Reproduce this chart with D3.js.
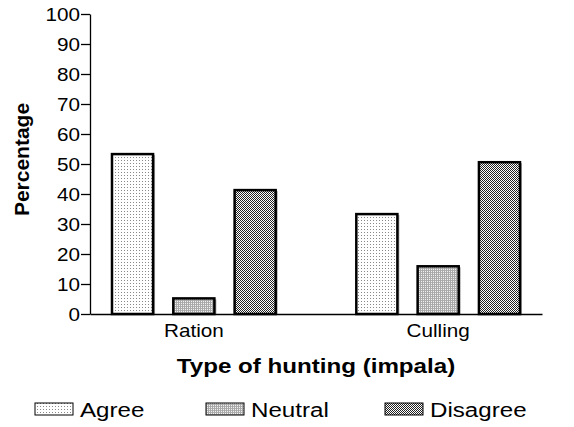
<!DOCTYPE html>
<html>
<head>
<meta charset="utf-8">
<script src="https://cdn.jsdelivr.net/npm/d3@7"></script>
<style>
    body { margin: 0; background: #fff; }
    svg { font-family: Arial, "Liberation Sans", sans-serif; }
</style>
</head>
<body>
<svg id="chart" width="574" height="427"></svg>
<script>
// chart values
let categories = ['Ration', 'Culling'];
let seriesNames = ['Agree', 'Neutral', 'Disagree'];
let agree = [53.3, 33.3];
let neutral = [5.2, 15.9];
let disagree = [41.3, 50.6];
let yTicks = [0, 10, 20, 30, 40, 50, 60, 70, 80, 90, 100];

let svg = d3.select('svg#chart'),
    margin = {top: 14, right: 32, bottom: 113, left: 90},
    width = +svg.attr('width'),
    height = +svg.attr('height');

// text in the original looks a bit wide, so stretch it horizontally
let sx = 1.15;
function stretchText(sel, x, y) {
    sel.attr('x', 0).attr('y', 0)
        .attr('transform', 'translate(' + x + ',' + y + ') scale(' + sx + ',1)');
}

// fill patterns, one per series
let defs = svg.append('defs');

let p1 = defs.append('pattern').attr('id', 'pAgree')
    .attr('patternUnits', 'userSpaceOnUse').attr('width', 3).attr('height', 3);
p1.append('rect').attr('width', 3).attr('height', 3).attr('fill', '#fff');
p1.append('rect').attr('x', 1).attr('y', 1).attr('width', 1).attr('height', 1).attr('fill', '#888');

let p2 = defs.append('pattern').attr('id', 'pNeutral')
    .attr('patternUnits', 'userSpaceOnUse').attr('width', 2).attr('height', 2);
p2.append('rect').attr('width', 2).attr('height', 2).attr('fill', '#f2f2f2');
p2.append('rect').attr('width', 2).attr('height', 1).attr('fill', '#b0b0b0');
p2.append('rect').attr('width', 1).attr('height', 2).attr('fill', '#a8a8a8');

let p3 = defs.append('pattern').attr('id', 'pDisagree')
    .attr('patternUnits', 'userSpaceOnUse').attr('width', 2).attr('height', 2);
p3.append('rect').attr('width', 2).attr('height', 2).attr('fill', '#fff');
p3.append('rect').attr('width', 1).attr('height', 1).attr('fill', '#222');
p3.append('rect').attr('x', 1).attr('y', 1).attr('width', 1).attr('height', 1).attr('fill', '#222');

let fills = {Agree: 'url(#pAgree)', Neutral: 'url(#pNeutral)', Disagree: 'url(#pDisagree)'};
let values = {Agree: agree, Neutral: neutral, Disagree: disagree};

// scales
let yScale = d3.scaleLinear()
    .domain([0, 100])
    .range([height - margin.bottom, margin.top]);

let xScale = d3.scaleBand()
    .domain(categories)
    .range([margin.left, width - margin.right])
    .paddingInner(0.33)
    .paddingOuter(0.09);

let xInner = d3.scaleBand()
    .domain(seriesNames)
    .range([0, xScale.bandwidth()])
    .paddingInner(0.33)
    .paddingOuter(0);

// bars
let rows = [];
categories.forEach(function (c, i) {
    seriesNames.forEach(function (s) {
        rows.push({cat: c, series: s, value: values[s][i]});
    });
});

let bars = svg.append('g').attr('id', 'bars');
// light shadow on the right edge
bars.selectAll('rect.shadow')
    .data(rows)
    .enter().append('rect')
    .attr('class', 'shadow')
    .attr('x', function (d) { return xScale(d.cat) + xInner(d.series) + 2; })
    .attr('y', function (d) { return yScale(d.value) + 1; })
    .attr('width', xInner.bandwidth())
    .attr('height', function (d) { return yScale(0) - yScale(d.value) - 1; })
    .attr('fill', '#aaa');

bars.selectAll('rect.bar')
    .data(rows)
    .enter().append('rect')
    .attr('class', 'bar')
    .attr('x', function (d) { return xScale(d.cat) + xInner(d.series); })
    .attr('y', function (d) { return yScale(d.value); })
    .attr('width', xInner.bandwidth())
    .attr('height', function (d) { return yScale(0) - yScale(d.value); })
    .attr('fill', function (d) { return fills[d.series]; })
    .attr('stroke', '#000')
    .attr('stroke-width', 2.5);

// axes
let yAxis = d3.axisLeft(yScale).tickValues(yTicks).tickSize(9).tickSizeOuter(0);
let gy = svg.append('g')
    .attr('transform', 'translate(' + margin.left + ',0)')
    .call(yAxis);
gy.select('.domain').attr('stroke', '#000').attr('stroke-width', 1.3);
gy.selectAll('.tick line').attr('stroke', '#000').attr('stroke-width', 1.3);
gy.selectAll('.tick text')
    .attr('font-size', 18)
    .attr('font-family', 'Arial, "Liberation Sans", sans-serif')
    .attr('fill', '#000')
    .attr('dy', '0.35em')
    .each(function () { stretchText(d3.select(this), -10, 0); });

let xAxis = d3.axisBottom(xScale).tickSize(0).tickSizeOuter(0);
let gx = svg.append('g')
    .attr('transform', 'translate(0,' + yScale(0) + ')')
    .call(xAxis);
gx.select('.domain').attr('stroke', '#000').attr('stroke-width', 1.3);
gx.selectAll('.tick text')
    .attr('font-size', 18)
    .attr('font-family', 'Arial, "Liberation Sans", sans-serif')
    .attr('fill', '#000')
    .attr('dy', 0)
    .each(function () { stretchText(d3.select(this), 0, 23); });

// axis titles
svg.append('text')
    .attr('text-anchor', 'middle')
    .attr('font-size', 21)
    .attr('font-weight', 'bold')
    .text('Type of hunting (impala)')
    .call(stretchText, (margin.left + width - margin.right) / 2, 373);

svg.append('text')
    .attr('transform', 'translate(29,' + yScale(51.5) + ') rotate(-90)')
    .attr('text-anchor', 'middle')
    .attr('font-size', 21)
    .attr('font-weight', 'bold')
    .text('Percentage');

// legend
let legendX = [35, 206, 385];
let legend = svg.append('g').attr('id', 'legend');
seriesNames.forEach(function (s, i) {
    legend.append('rect')
        .attr('x', legendX[i])
        .attr('y', 403)
        .attr('width', 38)
        .attr('height', 12)
        .attr('fill', fills[s])
        .attr('stroke', '#000')
        .attr('stroke-width', 1);
    legend.append('text')
        .attr('font-size', 21)
        .text(s)
        .call(stretchText, legendX[i] + 45, 417);
});
</script>
</body>
</html>
